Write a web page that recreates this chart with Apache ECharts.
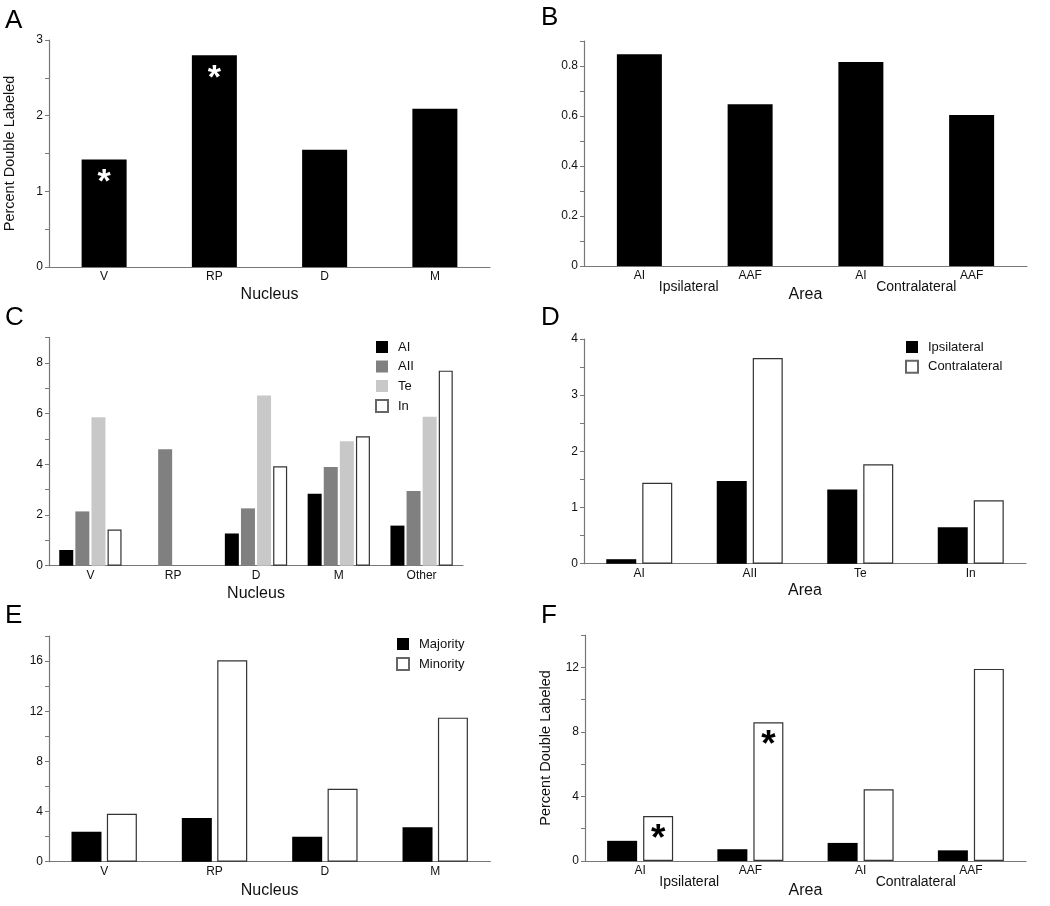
<!DOCTYPE html>
<html>
<head>
<meta charset="utf-8">
<script src="https://cdn.jsdelivr.net/npm/echarts@6/dist/echarts.min.js"></script>
<style>
html,body{margin:0;padding:0;background:#fff;}
#chart{width:1050px;height:906px;}
</style>
</head>
<body>
<div id="chart"></div>
<script>
// ---- Data ----
const nucleiA = ['V', 'RP', 'D', 'M'];
const valuesA = [1.42, 2.80, 1.55, 2.09];
const sigA = ['*', '*', '', ''];

const areasB = ['AI', 'AAF', 'AI', 'AAF'];
const sidesB = ['Ipsilateral', 'Contralateral'];
const valuesB = [0.847, 0.647, 0.816, 0.604];

const nucleiC = ['V', 'RP', 'D', 'M', 'Other'];
const cAI = [0.62, null, 1.27, 2.84, 1.58];
const cAII = [2.14, 4.59, 2.26, 3.89, 2.94];
const cTe = [5.85, null, 6.71, 4.91, 5.87];
const cIn = [1.43, null, 3.92, 5.10, 7.69];

const areasD = ['AI', 'AII', 'Te', 'In'];
const dIpsi = [0.08, 1.47, 1.32, 0.65];
const dContra = [1.44, 3.66, 1.77, 1.13];

const nucleiE = ['V', 'RP', 'D', 'M'];
const eMaj = [2.39, 3.48, 1.99, 2.74];
const eMin = [3.83, 16.06, 5.82, 11.49];

const areasF = ['AI', 'AAF', 'AI', 'AAF'];
const sidesF = ['Ipsilateral', 'Contralateral'];
const fMaj = [1.25, 0.73, 1.12, 0.66];
const fMin = [2.78, 8.59, 4.44, 11.90];
const sigF = ['*', '*', '', ''];

// ---- Styles ----
const FONT = "'Liberation Sans', Arial, sans-serif";
const AXC = '#777';
const TXT = '#111';
const BORDER = '#333';

const chart = echarts.init(document.getElementById('chart'), null, {renderer: 'canvas'});

function grid(left, top, width, height) {
  return {left, top, width, height, containLabel: false, outerBoundsMode: 'none'};
}
function catAxis(gi, data, name, nameGap) {
  return {
    type: 'category', gridIndex: gi, data,
    position: 'bottom',
    axisLine: {show: true, lineStyle: {color: AXC, width: 1.2}},
    axisTick: {show: false},
    axisLabel: {margin: 4, fontSize: 12, color: TXT, fontFamily: FONT},
    name: name || '', nameLocation: 'middle', nameGap: nameGap || 20,
    nameTextStyle: {fontSize: 16, color: TXT, fontFamily: FONT}
  };
}
function sideAxis(gi, data) {
  return {
    type: 'category', gridIndex: gi,
    data: data.map((d, i) => i === 0 ? {value: d, textStyle: {padding: [0, 12, 0, 0]}} : d),
    position: 'bottom', offset: 0,
    axisLine: {show: false}, axisTick: {show: false},
    axisLabel: {margin: 14, fontSize: 14, color: TXT, fontFamily: FONT}
  };
}
function valAxis(gi, max, interval, labelStep, name) {
  return {
    type: 'value', gridIndex: gi, min: 0, max, interval,
    axisLine: {show: true, lineStyle: {color: AXC, width: 1.2}},
    axisTick: {show: true, length: 4, lineStyle: {color: AXC}},
    splitLine: {show: false},
    axisLabel: {
      margin: 6, fontSize: 12, color: TXT, fontFamily: FONT,
      formatter: function (v) {
        const k = Math.round(v / labelStep * 1000) / 1000;
        if (Math.abs(k - Math.round(k)) > 1e-6) return '';
        return String(Math.round(v * 100) / 100);
      }
    },
    name: name || '', nameLocation: 'middle', nameGap: 32,
    nameTextStyle: {fontSize: 14.5, color: TXT, fontFamily: FONT}
  };
}
function bar(name, xi, yi, data, color, width, gap, extra) {
  const white = color === '#ffffff';
  return Object.assign({
    name, type: 'bar', xAxisIndex: xi, yAxisIndex: yi, data,
    barWidth: width, barGap: gap,
    itemStyle: {color, borderColor: white ? BORDER : color, borderWidth: white ? 1.2 : 0},
    emphasis: {disabled: true}, animation: false
  }, extra || {});
}
function legend(data, left, top, gap) {
  return {
    data, left, top, orient: 'vertical', icon: 'rect', padding: 0,
    itemWidth: 12, itemHeight: 12, itemGap: gap,
    itemStyle: {borderColor: '#666'},
    textStyle: {fontSize: 13, color: TXT, fontFamily: FONT, padding: [0, 0, 0, 5]},
    selectedMode: false
  };
}
function letter(t, x, y) {
  return {type: 'text', left: x, top: y,
    style: {text: t, fontSize: 26, fontFamily: FONT, fill: '#000'}};
}

const option = {
  backgroundColor: '#ffffff',
  animation: false,
  textStyle: {fontFamily: FONT},
  grid: [
    grid(49, 40, 441, 227),
    grid(584, 41, 443, 225),
    grid(49, 337.4, 414, 228.3),
    grid(584, 339, 442, 224.7),
    grid(49, 636, 441.4, 225.7),
    grid(585, 635, 441, 226)
  ],
  xAxis: [
    catAxis(0, nucleiA, 'Nucleus', 20),
    catAxis(1, areasB, 'Area', 21),
    sideAxis(1, sidesB),
    catAxis(2, nucleiC, 'Nucleus', 20),
    catAxis(3, areasD, 'Area', 19),
    catAxis(4, nucleiE, 'Nucleus', 21),
    catAxis(5, areasF, 'Area', 22),
    sideAxis(5, sidesF)
  ],
  yAxis: [
    valAxis(0, 3, 0.5, 1, 'Percent Double Labeled'),
    valAxis(1, 0.9, 0.1, 0.2),
    valAxis(2, 9, 1, 2),
    valAxis(3, 4, 0.5, 1),
    valAxis(4, 18, 2, 4),
    valAxis(5, 14, 2, 4, 'Percent Double Labeled')
  ],
  legend: [
    legend(['AI', 'AII', 'Te', 'In'], 375, 340.5, 6.5),
    legend(['Ipsilateral', 'Contralateral'], 905, 340.5, 6.3),
    legend(['Majority', 'Minority'], 396, 637.5, 6.6)
  ],
  series: [
    bar('A', 0, 0, valuesA, '#000000', 45, '0%', {
      label: {show: true, position: 'insideTop', distance: 6,
        formatter: p => sigA[p.dataIndex], color: '#ffffff', fontSize: 34, fontWeight: 'bold', fontFamily: FONT}
    }),
    bar('B', 1, 1, valuesB, '#000000', 45, '0%'),
    bar('AI', 3, 2, cAI, '#000000', 14, '15%'),
    bar('AII', 3, 2, cAII, '#808080', 14, '15%'),
    bar('Te', 3, 2, cTe, '#c8c8c8', 14, '15%'),
    bar('In', 3, 2, cIn, '#ffffff', 14, '15%'),
    bar('Ipsilateral', 4, 3, dIpsi, '#000000', 30, '20%'),
    bar('Contralateral', 4, 3, dContra, '#ffffff', 30, '20%'),
    bar('Majority', 5, 4, eMaj, '#000000', 30, '18%'),
    bar('Minority', 5, 4, eMin, '#ffffff', 30, '18%'),
    bar('F Majority', 6, 5, fMaj, '#000000', 30, '20%'),
    bar('F Minority', 6, 5, fMin, '#ffffff', 30, '20%', {
      label: {show: true, position: 'insideTop', distance: 5,
        formatter: p => sigF[p.dataIndex], color: '#000000', fontSize: 37, fontWeight: 'bold', fontFamily: FONT}
    })
  ],
  graphic: [
    letter('A', 5, 8),
    letter('B', 541, 5),
    letter('C', 5, 305),
    letter('D', 541, 305),
    letter('E', 5, 603),
    letter('F', 541, 603)
  ]
};
chart.setOption(option);
</script>
</body>
</html>
